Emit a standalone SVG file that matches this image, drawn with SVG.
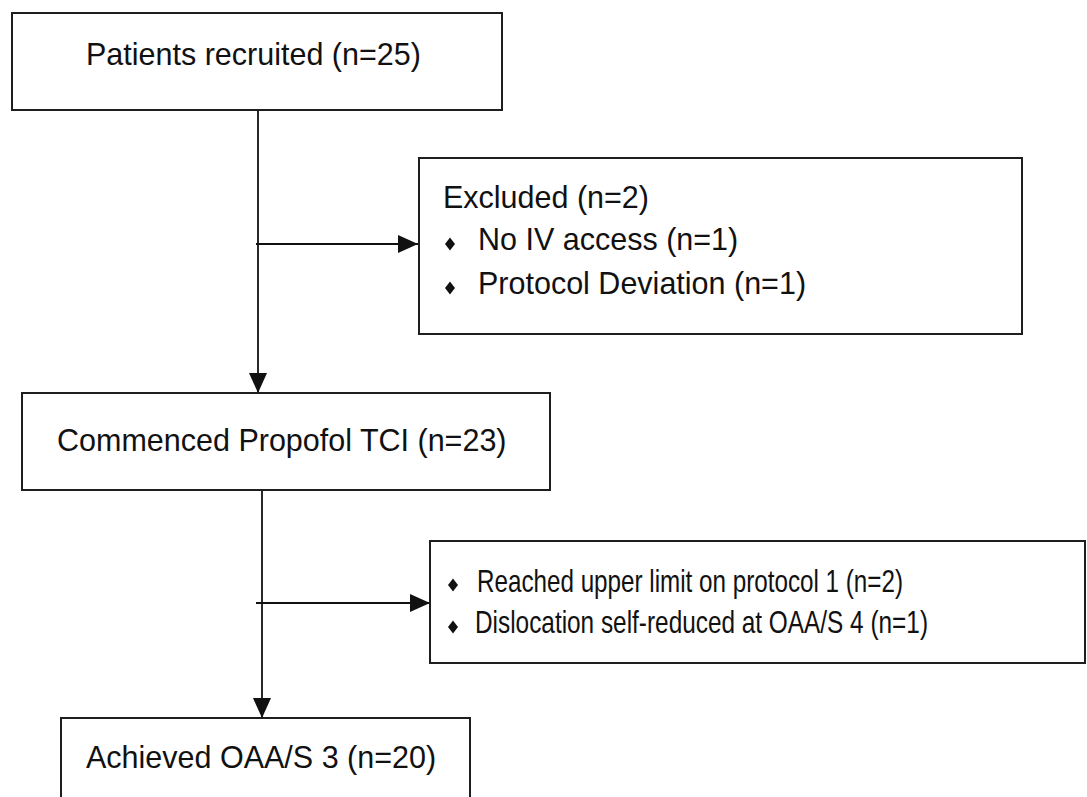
<svg xmlns="http://www.w3.org/2000/svg" width="1087" height="797" viewBox="0 0 1087 797">
  <defs>
    <style>
      .box { fill: #ffffff; stroke: #1e1e1e; stroke-width: 2; }
      .link { fill: none; stroke: #111111; stroke-width: 1.8; }
      .lbl { font-family: "Liberation Sans", Arial, Helvetica, sans-serif; font-size: 30.5px; fill: #111111; }
      .dot { fill: #111111; }
    </style>
    <marker id="head" markerUnits="userSpaceOnUse" markerWidth="20" markerHeight="18" refX="20" refY="9" orient="auto">
      <path d="M0,0 L20,9 L0,18 Z" fill="#111111"/>
    </marker>
    <path id="bullet" d="M0,-6.5 L5,0 L0,6.5 L-5,0 Z"/>
  </defs>

  <rect width="1087" height="797" fill="#ffffff"/>

  <!-- connectors -->
  <g id="connectors">
    <line class="link" x1="258" y1="110" x2="258" y2="393" marker-end="url(#head)"/>
    <line class="link" x1="256" y1="244" x2="418" y2="244" marker-end="url(#head)"/>
    <line class="link" x1="262" y1="490" x2="262" y2="718" marker-end="url(#head)"/>
    <line class="link" x1="256" y1="603" x2="430" y2="603" marker-end="url(#head)"/>
  </g>

  <!-- recruitment -->
  <g id="recruited">
    <rect class="box" x="12" y="13" width="490" height="97"/>
    <text class="lbl" x="86" y="65">Patients recruited (n=25)</text>
  </g>

  <!-- exclusions before infusion -->
  <g id="excluded">
    <rect class="box" x="419" y="158" width="603" height="176"/>
    <text class="lbl" x="443" y="208">Excluded (n=2)</text>
    <use href="#bullet" class="dot" x="450" y="244"/>
    <text class="lbl" x="478" y="250">No IV access (n=1)</text>
    <use href="#bullet" class="dot" x="450" y="288"/>
    <text class="lbl" x="478" y="294">Protocol Deviation (n=1)</text>
  </g>

  <!-- infusion started -->
  <g id="commenced">
    <rect class="box" x="22" y="393" width="528" height="97"/>
    <text class="lbl" x="57" y="451">Commenced Propofol TCI (n=23)</text>
  </g>

  <!-- withdrawn during titration -->
  <g id="withdrawn">
    <rect class="box" x="430" y="541" width="655" height="122"/>
    <use href="#bullet" class="dot" x="453" y="585"/>
    <text class="lbl" x="477" y="592" textLength="426" lengthAdjust="spacingAndGlyphs">Reached upper limit on protocol 1 (n=2)</text>
    <use href="#bullet" class="dot" x="453" y="627"/>
    <text class="lbl" x="475" y="633" textLength="453" lengthAdjust="spacingAndGlyphs">Dislocation self-reduced at OAA/S 4 (n=1)</text>
  </g>

  <!-- target sedation reached -->
  <g id="achieved">
    <rect class="box" x="61" y="718" width="409" height="100"/>
    <text class="lbl" x="86" y="768">Achieved OAA/S 3 (n=20)</text>
  </g>
</svg>
